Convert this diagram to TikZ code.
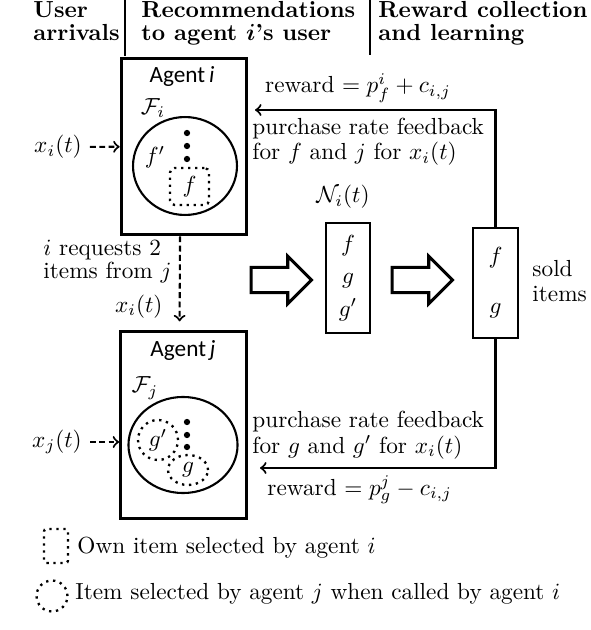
\documentclass[tikz,border=0pt]{standalone}
\usepackage{amsmath,amssymb}
\usepackage{fontspec}
\usepackage{tikz}
\usetikzlibrary{shapes.arrows,shapes.geometric}
\newfontfamily\agentfont{Carlito}

\begin{document}
\begin{tikzpicture}[x=0.43pt, y=-0.43pt,
    agentbox/.style={draw, line width=1.3pt, minimum width=54pt},
    itemset/.style={draw, ellipse, line width=0.9pt, inner sep=0pt},
    ownitem/.style={draw, dotted, line width=1pt, rounded corners=2pt, inner sep=0pt},
    calleditem/.style={draw, dotted, line width=1pt, ellipse, inner sep=0pt},
    listbox/.style={draw, align=center, line width=0.9pt, minimum width=19pt, minimum height=47pt, inner sep=0pt},
    bigarrow/.style={draw, single arrow, line width=1.3pt, minimum height=26pt, single arrow head extend=4.8pt, inner xsep=0pt, inner ysep=4.8pt},
    fbarrow/.style={->, line width=0.9pt},
    reqarrow/.style={->, line width=0.9pt, dash pattern=on 2.5pt off 1.5pt},
    dot/.style={fill, circle, inner sep=0pt, minimum size=2.7pt}]
    \useasboundingbox (0,0) rectangle (590,630);

    % column headers
    \node[anchor=base west, align=left, font=\bfseries, inner sep=0pt] (hUser) at (33,41) {User\\[-1.7pt]arrivals};
    \node[anchor=base west, align=left, font=\bfseries, inner sep=0pt] (hRec) at (141,41) {Recommendations\\[-1.7pt]to agent $\boldsymbol{i}$'s user};
    \node[anchor=base west, align=left, font=\bfseries, inner sep=0pt] (hRew) at (378,41) {Reward collection\\[-1.7pt]and learning};
    \draw[line width=0.9pt] (125,0) -- (125,56);
    \draw[line width=0.9pt] (370,0) -- (370,55);

    % agent i
    \node[agentbox, minimum height=76pt] (agenti) at (184,146.5) {};
    \node (agentiLbl) at (182,77) {\agentfont Agent\,\textit{i}};
    \node (Fi) at (153,108) {$\mathcal{F}_i$};
    \node[itemset, minimum width=44.7pt, minimum height=42.1pt] (seti) at (185,166) {};
    \node[dot] (di1) at (187,133) {};
    \node[dot] (di2) at (187,146) {};
    \node[dot] (di3) at (187,159) {};
    \node (fprime) at (155,157) {$f'$};
    \node[ownitem, minimum width=16.8pt, minimum height=15.9pt] (fsel) at (189.5,186.5) {$f$};
    \node (xi) at (58,147) {$x_i(t)$};
    \draw[reqarrow] (xi) -- (agenti);

    % request from i to j
    \node[anchor=base west, align=left, inner sep=0pt] (req) at (43,278) {$i$ requests 2\\[-2.5pt]items from $j$};
    \node[anchor=base east, inner sep=0pt] (xireq) at (163,312) {$x_i(t)$};

    % agent j
    \node[agentbox, minimum height=80.8pt] (agentj) at (183.5,425) {};
    \node (agentjLbl) at (183,350) {\agentfont Agent\,\textit{j}};
    \node (Fj) at (145,388) {$\mathcal{F}_j$};
    \node[itemset, minimum width=46.9pt, minimum height=41.3pt] (setj) at (183,445) {};
    \node[dot] (dj1) at (187,422) {};
    \node[dot] (dj2) at (187,435) {};
    \node[dot] (dj3) at (187,447) {};
    \node[calleditem, minimum width=17.2pt, minimum height=17.2pt] (gprime) at (158,440) {$g'$};
    \node[calleditem, minimum width=17.2pt, minimum height=12.9pt] (gsel) at (188,470) {$g$};
    \node (xj) at (57,442) {$x_j(t)$};
    \draw[reqarrow] (xj.east) -- (xj.east -| agentj.west);
    \draw[reqarrow, shorten >=3.5pt] ([xshift=-1.7pt]agenti.south) -- ([xshift=-1.7pt]agentj.north);

    % recommendations and sold items
    \node[bigarrow] (arrA) at (275,280) {};
    \node[listbox] (rec) at (348,278) {$f$\\[2pt]$g$\\[2pt]$g'$};
    \node (Ni) at (343,197) {$\mathcal{N}_i(t)$};
    \node[bigarrow] (arrB) at (416,280) {};
    \node[listbox] (sold) at (495.5,283) {$f$\\[9.5pt]$g$};
    \node[anchor=west, align=left, inner sep=0pt] (soldLbl) at (532,281) {sold\\[-1pt]items};

    % feedback to i
    \coordinate (fbA) at (255,110);
    \draw[fbarrow] (sold.north) |- (fbA);
    \node[anchor=base] (rewA) at (358,93) {reward $= p^i_f + c_{i,j}$};
    \node[anchor=base west, align=left, inner sep=0pt] (fbAtxt) at (252,160) {purchase rate feedback\\[-1pt]for $f$ and $j$ for $x_i(t)$};

    % feedback to j
    \coordinate (fbB) at (260,468);
    \draw[fbarrow] (sold.south) |- (fbB);
    \node[anchor=base west, align=left, inner sep=0pt] (fbBtxt) at (252,453) {purchase rate feedback\\[-1pt]for $g$ and $g'$ for $x_i(t)$};
    \node[anchor=base west, inner sep=0pt] (rewB) at (267,495) {reward $= p^j_g - c_{i,j}$};

    % legend
    \node[ownitem, rounded corners=1pt, minimum width=10.3pt, minimum height=14.6pt] (legOwn) at (56,546) {};
    \node[anchor=west, inner sep=0pt] (legOwnTxt) at (77,548) {Own item selected by agent $i$};
    \node[calleditem, minimum size=13.3pt] (legCalled) at (52,596) {};
    \node[anchor=west, inner sep=0pt] (legCalledTxt) at (75,594) {Item selected by agent $j$ when called by agent $i$};
\end{tikzpicture}
\end{document}
